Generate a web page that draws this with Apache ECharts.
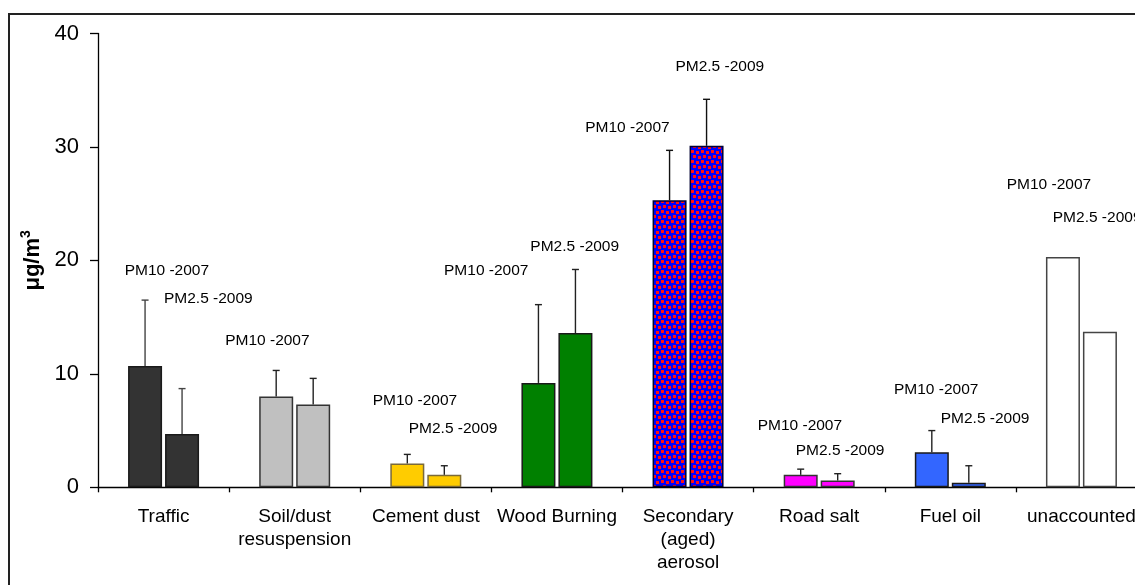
<!DOCTYPE html>
<html>
<head>
<meta charset="utf-8">
<script src="https://cdn.jsdelivr.net/npm/echarts@6/dist/echarts.min.js"></script>
<style>
  html, body { margin: 0; padding: 0; background: #fff; }
  #chart { width: 1135px; height: 585px; }
</style>
</head>
<body>
<div id="chart"></div>
<script>
// Source apportionment: mean contribution (µg/m3) with upper error bars
const categories = ['Traffic', 'Soil/dust\nresuspension', 'Cement dust', 'Wood Burning',
  'Secondary\n(aged)\naerosol', 'Road salt', 'Fuel oil', 'unaccounted'];
const seriesNames = ['PM10 -2007', 'PM2.5 -2009'];
const pm10 = [10.7, 8.0, 2.1, 9.2, 25.3, 1.1, 3.1, 20.3];
const pm10Err = [5.8, 2.3, 0.8, 6.9, 4.4, 0.5, 1.9, null];
const pm25 = [4.7, 7.3, 1.1, 13.6, 30.1, 0.6, 0.4, 13.7];
const pm25Err = [4.0, 2.3, 0.8, 5.6, 4.1, 0.6, 1.5, null];
const yTicks = [0, 10, 20, 30, 40];

// Per-category styling
const fills = ['#333333', '#c0c0c0', '#ffcc00', '#008000', 'PATTERN', '#ff00ff', '#3366ff', '#ffffff'];
const borders = ['#1a1a1a', '#333333', '#7a6a3a', '#1a1a1a', '#000033', '#333333', '#1a1a1a', '#444444'];
const errColors = ['#444444', '#222222', '#222222', '#222222', '#111111', '#222222', '#222222', '#222222'];

// Series-name labels: shift of label centre from the bar's top-centre (px)
const pm10LabelShift = [[21.8, -95.2], [-8.8, -55.5], [7.6, -62.8], [-52.2, -111.9],
  [-42.1, -72.6], [-0.8, -49.1], [4.4, -62.8], [-14, -72.7]];
const pm25LabelShift = [[26.3, -135], null, [8.8, -46.5], [-0.7, -86.3],
  [13.2, -79.1], [2.4, -29.5], [16.3, -64.5], [-2.8, -114.2]];

const FONT = '"Liberation Sans", Arial, sans-serif';
const BAR_W = 34;
const BAR_GAP = 3;
const LABEL_LH = 18;

// Blue fill stippled with red squares
function stipple() {
  const c = document.createElement('canvas');
  c.width = 10; c.height = 10;
  const g = c.getContext('2d');
  g.fillStyle = '#0000ff';
  g.fillRect(0, 0, 10, 10);
  g.fillStyle = '#ff1010';
  [[1, 0], [6, 1], [3, 5], [8, 6]].forEach(p => {
    g.fillRect(p[0], p[1], 3, 3);
    if (p[0] + 3 > 10) g.fillRect(p[0] - 10, p[1], 3, 3);
  });
  return { image: c, repeat: 'repeat' };
}
const patternFill = stipple();

function barData(values, shifts) {
  return values.map((v, i) => {
    const s = shifts[i];
    return {
      value: v,
      itemStyle: {
        color: fills[i] === 'PATTERN' ? patternFill : fills[i],
        borderColor: borders[i],
        borderWidth: 1.5
      },
      label: s ? { show: true, offset: [s[0], s[1] + LABEL_LH / 2] } : { show: false }
    };
  });
}

function errData(values, errs) {
  return values.map((v, i) => [i, v, errs[i] == null ? null : v + errs[i]]);
}

function errorSeries(values, errs, side) {
  return {
    type: 'custom',
    data: errData(values, errs),
    z: 5,
    silent: true,
    renderItem: function (params, api) {
      const top = api.value(2);
      if (top == null || isNaN(top)) return null;
      const idx = api.value(0);
      const base = api.coord([idx, api.value(1)]);
      const tip = api.coord([idx, top]);
      const x = base[0] + side * (BAR_W / 2 + BAR_GAP / 2);
      const col = errColors[idx];
      const st = { stroke: col, lineWidth: 1.4 };
      return {
        type: 'group',
        children: [
          { type: 'line', shape: { x1: x, y1: base[1], x2: x, y2: tip[1] }, style: st },
          { type: 'line', shape: { x1: x - 3.5, y1: tip[1], x2: x + 3.5, y2: tip[1] }, style: st }
        ]
      };
    }
  };
}

const labelStyle = {
  position: 'top',
  distance: 0,
  color: '#000',
  fontFamily: FONT,
  fontSize: 15.5,
  lineHeight: LABEL_LH,
  formatter: p => p.seriesName
};

const chart = echarts.init(document.getElementById('chart'), null, { renderer: 'canvas' });
chart.setOption({
  animation: false,
  backgroundColor: '#ffffff',
  graphic: [{
    type: 'rect',
    shape: { x: 9, y: 14, width: 1400, height: 900 },
    style: { fill: 'none', stroke: '#222', lineWidth: 2 },
    silent: true
  }],
  grid: {
    left: 98, top: 33.5, right: -12, bottom: 97.7,
    outerBoundsMode: 'none'
  },
  xAxis: {
    type: 'category',
    data: categories,
    axisLine: { lineStyle: { color: '#000', width: 1.3 } },
    axisTick: { show: true, length: 5, lineStyle: { color: '#000', width: 1.3 } },
    axisLabel: {
      interval: 0,
      margin: 18,
      color: '#000',
      fontFamily: FONT,
      fontSize: 19,
      lineHeight: 23
    }
  },
  yAxis: {
    type: 'value',
    min: yTicks[0],
    max: yTicks[yTicks.length - 1],
    interval: yTicks[1] - yTicks[0],
    splitLine: { show: false },
    axisLine: { show: true, lineStyle: { color: '#000', width: 1.3 } },
    axisTick: { show: true, length: 8, lineStyle: { color: '#000', width: 1.3 } },
    axisLabel: { margin: 19, color: '#000', fontFamily: FONT, fontSize: 22 },
    name: '{u|μg/m}{s|3}',
    nameLocation: 'middle',
    nameRotate: 90,
    nameGap: 44,
    nameTextStyle: {
      rich: {
        u: { fontFamily: FONT, fontSize: 22, fontWeight: 'bold', color: '#000', lineHeight: 26 },
        s: { fontFamily: FONT, fontSize: 14, fontWeight: 'bold', color: '#000', verticalAlign: 'top', lineHeight: 26 }
      }
    }
  },
  series: [
    {
      name: seriesNames[0],
      type: 'bar',
      barWidth: BAR_W,
      barGap: (BAR_GAP / BAR_W * 100).toFixed(1) + '%',
      data: barData(pm10, pm10LabelShift),
      label: labelStyle
    },
    {
      name: seriesNames[1],
      type: 'bar',
      barWidth: BAR_W,
      data: barData(pm25, pm25LabelShift),
      label: labelStyle
    },
    errorSeries(pm10, pm10Err, -1),
    errorSeries(pm25, pm25Err, 1)
  ]
});
</script>
</body>
</html>
